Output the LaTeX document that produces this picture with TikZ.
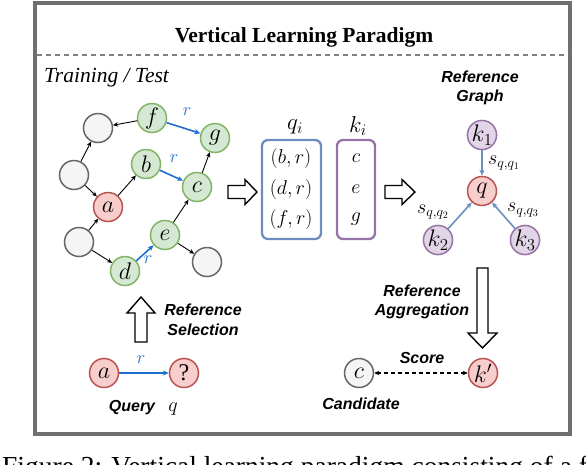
\RequirePackage{fix-cm}
\documentclass[tikz,border=0pt]{standalone}
\usepackage{fontspec}
\setmainfont{Liberation Serif}
\setsansfont{Liberation Sans}
\usetikzlibrary{arrows.meta}
\definecolor{gS}{HTML}{82B366}\definecolor{gF}{HTML}{D5E8D4}
\definecolor{rS}{HTML}{B85450}\definecolor{rF}{HTML}{F8CECC}
\definecolor{wS}{HTML}{666666}\definecolor{wF}{HTML}{F5F5F5}
\definecolor{pS}{HTML}{9673A6}\definecolor{pF}{HTML}{E1D5E7}
\definecolor{bS}{HTML}{6C8EBF}
\definecolor{rel}{HTML}{1A6FD1}
\definecolor{frameC}{HTML}{6F6F6F}
\tikzset{
  nd/.style={circle, minimum size=29pt, inner sep=0pt, line width=1.5pt, font=\fontsize{24}{28}\selectfont},
  gn/.style={nd, draw=gS, fill=gF},
  rn/.style={nd, draw=rS, fill=rF},
  wn/.style={nd, draw=wS, fill=wF},
  pn/.style={nd, draw=pS, fill=pF},
  blk/.style={-{Stealth[length=5pt,width=4.5pt]}, line width=0.9pt, black},
  relarr/.style={-{Stealth[length=6pt,width=5pt]}, line width=1.6pt, rel},
  refarr/.style={-{Stealth[length=6pt,width=5pt]}, line width=1.6pt, bS},
  rlab/.style={text=rel, font=\fontsize{18}{20}\selectfont, inner sep=0pt},
  mlab/.style={font=\fontsize{20}{24}\selectfont, inner sep=0pt},
  slab/.style={font=\sffamily\bfseries\itshape\fontsize{16}{19.5}\selectfont, align=center, inner sep=0pt},
  hollow/.style={draw=black, fill=white, line width=1.4pt, line join=miter},
  box/.style={rounded corners=6pt, line width=2.3pt},
}
\begin{document}
\begin{tikzpicture}[x=1pt,y=-1pt]
\useasboundingbox (0,0) rectangle (586,464);
% frame
\draw[frameC, line width=3.5pt] (35,3) rectangle (570,434);
\node[font=\bfseries\fontsize{21.5}{25}\selectfont, anchor=base, inner sep=0pt] (title) at (304,42) {Vertical Learning Paradigm};
\draw[gray, line width=1.2pt, dash pattern=on 5pt off 4pt] (37,55) -- (568,55);
\node[font=\itshape\fontsize{21.5}{25}\selectfont, anchor=base west, inner sep=0pt] (tt) at (44,82) {Training / Test};

% knowledge graph
\node[wn] (w1) at (98,128) {};
\node[gn] (f) at (152,118) {$f$};
\node[gn] (g) at (215,138) {$g$};
\node[gn] (b) at (146,164) {$b$};
\node[gn] (c) at (197,187) {$c$};
\node[wn] (w2) at (74,175) {};
\node[rn] (a) at (108,207) {$a$};
\node[wn] (w3) at (79,242) {};
\node[gn] (e) at (165,235) {$e$};
\node[gn] (d) at (125,271) {$d$};
\node[wn] (w4) at (207,262) {};
\draw[blk] (f) -- (w1);
\draw[blk] (w2) -- (w1);
\draw[blk] (w2) -- (a);
\draw[blk] (w3) -- (a);
\draw[blk] (w3) -- (d);
\draw[blk] (a) -- (b);
\draw[blk] (c) -- (g);
\draw[blk] (e) -- (c);
\draw[blk] (e) -- (w4);
\draw[relarr] (f) -- (g);
\draw[relarr] (b) -- (c);
\draw[relarr] (d) -- (e);
\node[rlab] (r1) at (187,112) {$r$};
\node[rlab] (r2) at (174,159) {$r$};
\node[rlab] (r3) at (148,260) {$r$};

% hollow arrow 1
\draw[hollow] (228,185.5) -- (245,185.5) -- (245,179.5) -- (257,192) -- (245,204.5) -- (245,198.5) -- (228,198.5) -- cycle;

% q_i / k_i boxes
\draw[box, bS] (262,140) rectangle (321,239);
\draw[box, pS] (337,140) rectangle (375,239);
\node[mlab, font=\fontsize{23}{26}\selectfont] (qi) at (295,127) {$q_i$};
\node[mlab, font=\fontsize{23}{26}\selectfont] (ki) at (358,126) {$k_i$};
\node[mlab] (q1) at (291,158) {$(b,r)$};
\node[mlab] (q2) at (291,189) {$(d,r)$};
\node[mlab] (q3) at (291,219) {$(f,r)$};
\node[mlab] (k1t) at (356,158) {$c$};
\node[mlab] (k2t) at (356,189) {$e$};
\node[mlab] (k3t) at (356,219) {$g$};

% hollow arrow 2
\draw[hollow] (385,185.5) -- (402,185.5) -- (402,179.5) -- (415,192) -- (402,204.5) -- (402,198.5) -- (385,198.5) -- cycle;

% reference graph
\node[slab] (rg) at (480,88) {Reference\\Graph};
\node[pn] (K1) at (482,135) {$k_1$};
\node[rn] (Q) at (482,191) {$q$};
\node[pn] (K2) at (438,240) {$k_2$};
\node[pn] (K3) at (525,240) {$k_3$};
\draw[refarr] (K1) -- (Q);
\draw[refarr] (K2) -- (Q);
\draw[refarr] (K3) -- (Q);
\node[mlab] (s1) at (504,163) {$s_{q,q_1}$};
\node[mlab] (s2) at (433,212) {$s_{q,q_2}$};
\node[mlab] (s3) at (523,210) {$s_{q,q_3}$};

% reference selection
\draw[hollow] (135,342) -- (135,313) -- (127,313) -- (141,297) -- (155,313) -- (147,313) -- (147,342) -- cycle;
\node[slab] (rs) at (203,320) {Reference\\Selection};
\node[rn] (qa) at (104,373) {$a$};
\node[rn] (qq) at (184,373) {?};
\draw[relarr] (qa) -- (qq);
\node[rlab] (r4) at (141,360) {$r$};
\node[slab, anchor=base] (query) at (132,411) {Query};
\node[mlab, anchor=base] (qsym) at (173,411) {$q$};

% reference aggregation
\draw[hollow] (477,268) -- (488,268) -- (488,333) -- (497,333) -- (482.5,348) -- (468,333) -- (477,333) -- cycle;
\node[slab] (ra) at (422,302) {Reference\\Aggregation};
\node[wn] (cand) at (359,373) {$c$};
\node[rn] (kp) at (483,373) {$k'$};
\draw[{Stealth[length=5pt,width=4.5pt]}-{Stealth[length=5pt,width=4.5pt]}, line width=1.3pt, dash pattern=on 4pt off 3pt] (cand) -- (kp);
\node[slab] (score) at (422,358) {Score};
\node[slab] (candl) at (361,404) {Candidate};

% caption (cut off by the page edge, as in the reference)
\node[font=\fontsize{27.5}{30}\selectfont, anchor=base west, inner sep=0pt] (cap) at (2,475) {Figure 2: Vertical learning paradigm consisting of a f};
\end{tikzpicture}
\end{document}
